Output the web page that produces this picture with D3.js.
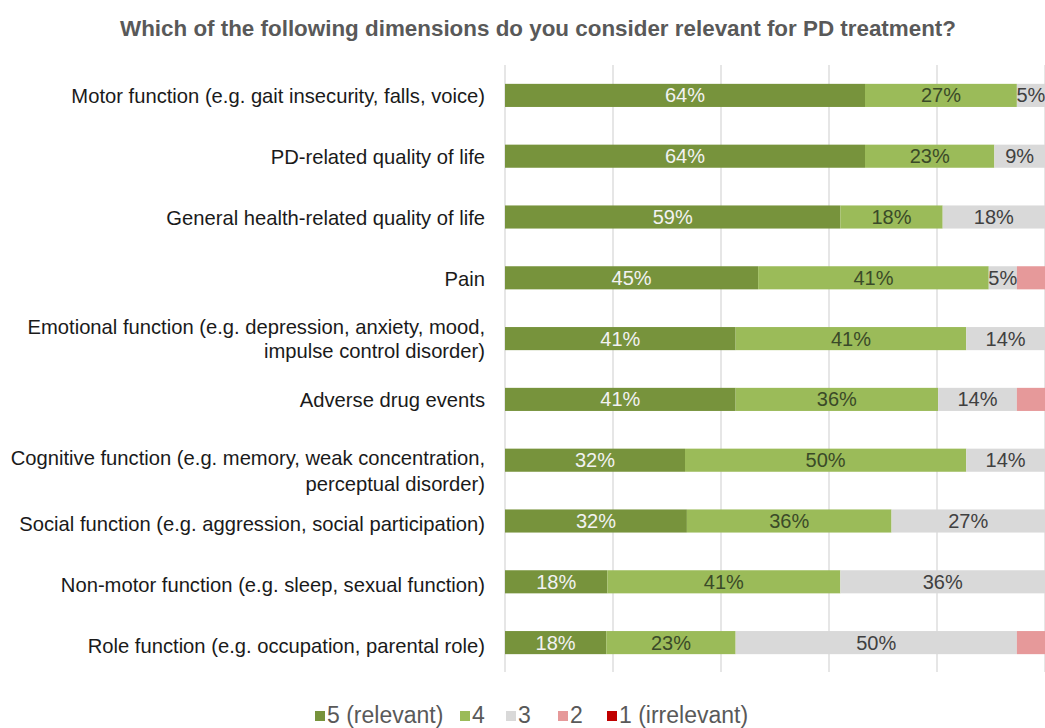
<!DOCTYPE html>
<html><head><meta charset="utf-8">
<script src="https://cdn.jsdelivr.net/npm/d3@7"></script>
<style>body{margin:0;background:#fff;} svg{display:block;font-family:"Liberation Sans",Arial,sans-serif;}</style>
</head><body>
<script>
const title = "Which of the following dimensions do you consider relevant for PD treatment?";
const categories = [
  ["Motor function (e.g. gait insecurity, falls, voice)"],
  ["PD-related quality of life"],
  ["General health-related quality of life"],
  ["Pain"],
  ["Emotional function (e.g. depression, anxiety, mood,", "impulse control disorder)"],
  ["Adverse drug events"],
  ["Cognitive function (e.g. memory, weak concentration,", "perceptual disorder)"],
  ["Social function (e.g. aggression, social participation)"],
  ["Non-motor function (e.g. sleep, sexual function)"],
  ["Role function (e.g. occupation, parental role)"]
];
const seriesNames = ["5 (relevant)", "4", "3", "2", "1 (irrelevant)"];
const s5 = [64, 64, 59, 45, 41, 41, 32, 32, 18, 18];
const s4 = [27, 23, 18, 41, 41, 36, 50, 36, 41, 23];
const s3 = [5, 9, 18, 5, 14, 14, 14, 27, 36, 50];
const s2 = [0, 0, 0, 5, 0, 5, 0, 0, 0, 5];
const s1 = [0, 0, 0, 0, 0, 0, 0, 0, 0, 0];
const colors = ["#77933C", "#9BBB59", "#D9D9D9", "#E6999A", "#C00000"];
const labelColors = ["#F2F2F2", "#3A4A28", "#404040", null, null];
const xTicks = [0, 0.2, 0.4, 0.6, 0.8, 1.0];

const W = 1045, H = 728;
const svg = d3.select("body").append("svg").attr("width", W).attr("height", H);

svg.append("text").attr("x", 538).attr("y", 28).attr("dy", "0.35em").attr("text-anchor", "middle")
  .attr("font-size", 22.4).attr("font-weight", "bold").attr("fill", "#595959").text(title);

const series = [s5, s4, s3, s2, s1];
const rows = categories.map((c, i) => {
  const vals = series.map(s => s[i]);
  const total = d3.sum(vals);
  let acc = 0;
  return vals.map((v, k) => { const seg = {i, k, v, x0: acc / total, x1: (acc + v) / total}; acc += v; return seg; });
});

const x = d3.scaleLinear().domain([0, 1]).range([505, 1045]);
const y = d3.scaleBand().domain(d3.range(categories.length)).range([65, 673]).paddingInner(0.62).paddingOuter(0.31);

// gridlines
svg.append("g").selectAll("line").data(xTicks).join("line")
  .attr("x1", d => x(d)).attr("x2", d => x(d)).attr("y1", 65).attr("y2", 672)
  .attr("stroke", "#D9D9D9").attr("stroke-width", 1.3);

const g = svg.append("g");
rows.forEach(r => {
  g.selectAll(null).data(r.filter(s => s.v > 0)).join("rect")
    .attr("x", d => x(d.x0)).attr("width", d => x(d.x1) - x(d.x0))
    .attr("y", d => y(d.i)).attr("height", y.bandwidth())
    .attr("fill", d => colors[d.k]);
  g.selectAll(null).data(r.filter(s => s.v > 0 && labelColors[s.k])).join("text")
    .attr("x", d => (x(d.x0) + x(d.x1)) / 2).attr("y", d => y(d.i) + y.bandwidth() / 2)
    .attr("dy", "0.35em").attr("text-anchor", "middle").attr("font-size", 20)
    .attr("fill", d => labelColors[d.k]).text(d => d.v + "%");
});

// category labels
const lab = svg.append("g");
categories.forEach((c, i) => {
  const cy = y(i) + y.bandwidth() / 2;
  const t = lab.append("text").attr("text-anchor", "end").attr("font-size", 20.2).attr("fill", "#1a1a1a");
  const offs = c.length === 1 ? [(i >= 7 ? 3 : 1)] : (i === 6 ? [-2, 24] : [-12, 12]);
  c.forEach((line, j) => {
    t.append("tspan").attr("x", 485).attr("y", cy + offs[j]).attr("dy", "0.35em").text(line);
  });
});

// legend
const leg = svg.append("g");
const legTextX = [327, 472, 518, 570, 619];
seriesNames.forEach((n, k) => {
  leg.append("rect").attr("x", legTextX[k] - 12).attr("y", 711).attr("width", 10).attr("height", 10).attr("fill", colors[k]);
  leg.append("text").attr("x", legTextX[k]).attr("y", 715).attr("dy", "0.35em")
    .attr("font-size", 23).attr("fill", "#595959").text(n);
});
</script>
</body></html>
